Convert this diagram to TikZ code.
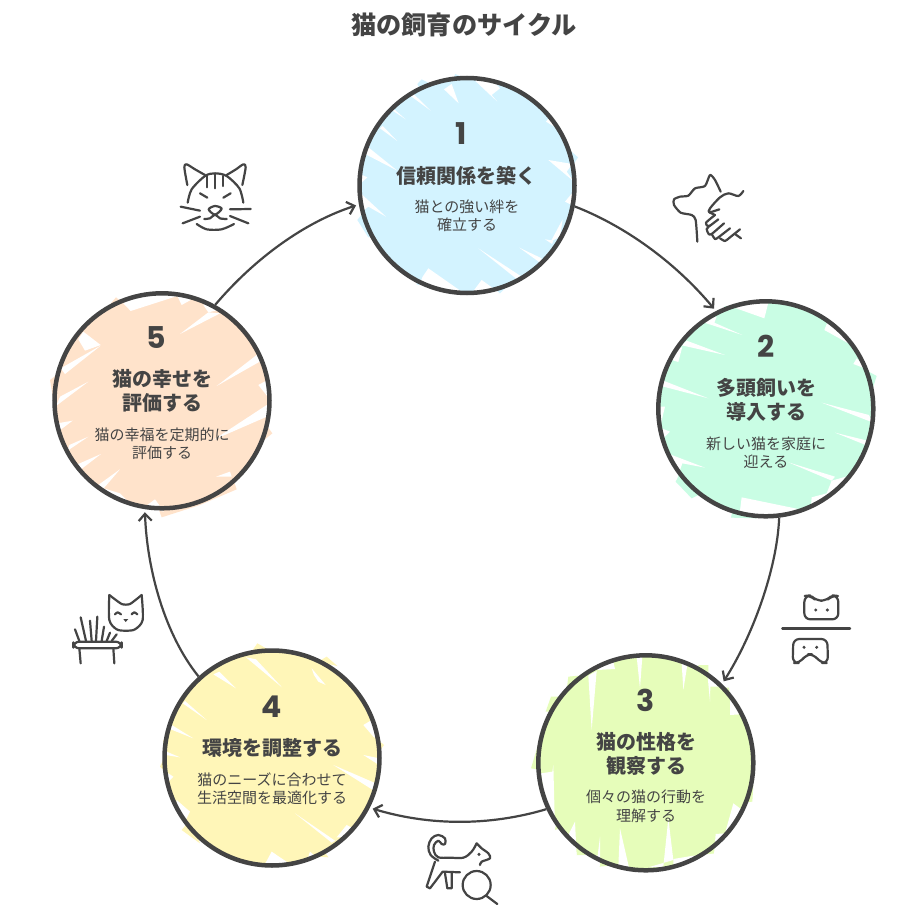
\documentclass[tikz,border=0pt]{standalone}
\usepackage{fontspec}
\usetikzlibrary{arrows.meta}
\setmainfont{Noto Sans CJK JP}
\newfontfamily\numfont{Poppins}[Scale=1]
\definecolor{ink}{HTML}{444444}
\definecolor{tintA}{HTML}{D3F3FF}
\definecolor{tintB}{HTML}{C9FDE4}
\definecolor{tintC}{HTML}{E6FDBA}
\definecolor{tintD}{HTML}{FFF6B8}
\definecolor{tintE}{HTML}{FFE3CB}
\newcommand\WW[1]{\fill[white] #1 -- cycle;}
\newcommand\TT[1]{\fill #1 -- cycle;}
\tikzset{
  zoomed/.style={x=.33333pt,y=-.33333pt},
  ring/.style={circle,draw=ink,line width=4.5pt,minimum size=215pt,inner sep=0pt,outer sep=2.25pt},
  numlabel/.style={text=ink,font=\numfont\bfseries\fontsize{30}{30}\selectfont,inner sep=0pt},
  heading/.style={text=ink,font=\bfseries\fontsize{20}{20}\selectfont,inner sep=0pt,text height=17.6pt,text depth=2.4pt},
  sublabel/.style={text=ink,font=\fontsize{15}{15}\selectfont,inner sep=0pt,text height=13.2pt,text depth=1.8pt},
  titlelabel/.style={text=ink,font=\bfseries\fontsize{25.2}{25.2}\selectfont,inner sep=0pt,text height=22.2pt,text depth=3pt},
  conn/.style={draw=ink,line width=2.2pt,-{Straight Barb[length=7pt,width=13pt]},shorten >=3pt},
  icon/.style={draw=ink,line width=2.2pt,line cap=round,line join=round},
}
\begin{document}
\begin{tikzpicture}[x=1pt,y=-1pt]
\useasboundingbox (0,0) rectangle (924,912);
\fill[white] (0,0) rectangle (924,912);

% --- circle 1 fill
\begin{scope}[shift={(340,60)},zoomed,fill=tintA]
\fill (381,376) circle[radius=322];
\TT{(232,72)--(245,58)--(268,70)--(240,88)}
\TT{(345,42)--(405,66)--(340,62)}
\TT{(680,262)--(714,292)--(695,322)--(670,310)}
\TT{(52,480)--(72,455)--(95,530)--(85,532)}
\TT{(228,672)--(270,640)--(275,690)}
\TT{(395,690)--(425,690)--(480,700)--(500,680)}
\WW{(205,103)--(272,152)--(222,103)}
\WW{(155,150)--(197,178)--(165,150)}
\WW{(120,205)--(172,243)--(128,198)}
\WW{(85,262)--(172,332)--(75,282)}
\WW{(60,342)--(82,352)--(60,372)}
\WW{(62,400)--(138,470)--(85,440)--(58,462)}
\WW{(312,88)--(356,130)--(335,72)}
\WW{(405,62)--(472,125)--(455,105)--(480,85)--(450,52)}
\WW{(618,185)--(645,150)--(672,218)}
\WW{(625,300)--(702,365)--(680,335)--(697,312)}
\WW{(675,425)--(700,395)--(705,440)}
\WW{(615,538)--(636,552)--(640,542)}
\WW{(668,478)--(632,545)--(660,530)}
\WW{(538,563)--(600,608)--(605,595)}
\WW{(415,565)--(545,650)--(530,657)}
\WW{(265,625)--(365,695)--(230,695)--(248,650)}
\WW{(395,700)--(425,660)--(480,700)}
\end{scope}

% --- circle 2 fill
\begin{scope}[shift={(645,290)},zoomed,fill=tintB]
\fill (363,357) circle[radius=322];
\TT{(640,228)--(695,258)--(680,305)--(650,290)}
\TT{(92,575)--(115,520)--(170,610)--(140,625)}
\TT{(258,683)--(265,650)--(335,685)}
\TT{(240,48)--(270,52)--(225,75)}
\WW{(265,52)--(358,85)--(372,30)--(290,30)}
\WW{(178,98)--(292,135)--(208,98)--(215,80)--(190,85)}
\WW{(125,152)--(240,195)--(110,166)}
\WW{(80,210)--(100,216)--(112,170)--(95,182)}
\WW{(55,272)--(190,325)--(48,288)}
\WW{(60,350)--(48,400)--(38,350)}
\WW{(75,425)--(55,445)--(50,415)}
\WW{(75,493)--(180,533)--(112,520)--(95,570)--(70,520)}
\WW{(538,120)--(548,95)--(620,150)--(610,160)}
\WW{(625,222)--(635,205)--(672,240)}
\WW{(530,338)--(682,397)--(672,375)}
\WW{(570,428)--(667,467)--(667,452)}
\WW{(430,517)--(560,572)--(570,560)}
\WW{(560,572)--(610,558)--(565,635)--(530,632)--(498,645)--(500,622)--(545,610)}
\WW{(290,622)--(460,657)--(430,675)--(345,685)--(285,662)}
\end{scope}

% --- circle 3 fill
\begin{scope}[shift={(525,645)},zoomed,fill=tintC]
\fill (362,354) circle[radius=322];
\TT{(18,370)--(80,380)--(85,280)--(45,280)}
\TT{(78,155)--(100,155)--(110,200)--(62,200)}
\TT{(130,95)--(160,92)--(170,130)--(125,135)}
\TT{(520,60)--(550,60)--(550,120)--(520,110)}
\TT{(625,475)--(682,470)--(685,420)--(640,430)}
\TT{(555,125)--(612,128)--(618,170)--(570,165)}
\TT{(90,555)--(100,500)--(130,540)}
\TT{(155,630)--(180,630)--(180,590)--(150,590)}
\TT{(222,665)--(255,662)--(245,630)--(225,630)}
\TT{(570,625)--(510,632)--(530,600)--(570,590)}
\WW{(335,35)--(352,35)--(345,130)}
\WW{(470,55)--(487,60)--(475,135)}
\WW{(190,92)--(215,78)--(200,255)}
\WW{(265,50)--(270,72)--(218,75)--(225,55)}
\WW{(548,95)--(555,170)--(556,125)--(585,125)--(570,100)}
\WW{(615,210)--(645,208)--(615,150)}
\WW{(48,385)--(82,380)--(85,360)--(90,552)--(68,520)}
\WW{(150,530)--(155,632)--(120,590)}
\WW{(225,575)--(218,632)--(157,632)--(180,665)--(225,665)}
\WW{(285,550)--(312,668)--(280,665)}
\WW{(430,520)--(445,645)--(370,667)--(415,665)}
\WW{(625,475)--(600,565)--(572,567)--(567,628)--(505,632)--(445,642)--(445,670)--(560,645)--(665,505)}
\end{scope}

% --- circle 4 fill
\begin{scope}[shift={(150,640)},zoomed,fill=tintD]
\fill (366,354) circle[radius=322];
\TT{(322,10)--(405,58)--(300,42)}
\TT{(530,50)--(562,78)--(505,65)}
\TT{(685,300)--(702,315)--(680,345)}
\TT{(95,570)--(120,540)--(150,610)}
\TT{(30,380)--(50,340)--(50,400)}
\TT{(40,300)--(60,290)--(40,320)}
\TT{(510,650)--(535,652)--(520,630)}
\WW{(288,52)--(396,142)--(318,58)}
\WW{(190,103)--(258,145)--(208,95)}
\WW{(98,190)--(170,240)--(105,183)}
\WW{(65,255)--(130,295)--(62,268)}
\WW{(50,335)--(90,352)--(48,345)}
\WW{(55,400)--(70,410)--(48,432)}
\WW{(80,480)--(120,515)--(100,555)--(75,520)}
\WW{(485,85)--(527,135)--(505,125)--(492,105)}
\WW{(640,255)--(665,240)--(692,305)--(670,290)}
\WW{(640,345)--(690,377)--(688,355)}
\WW{(550,375)--(672,452)--(682,432)}
\WW{(435,520)--(555,602)--(545,608)}
\WW{(590,555)--(612,567)--(580,592)--(560,592)}
\WW{(345,672)--(365,635)--(420,672)--(370,690)}
\WW{(480,635)--(500,652)--(468,670)}
\end{scope}

% --- circle 5 fill
\begin{scope}[shift={(40,280)},zoomed,fill=tintE]
\fill (366,362) circle[radius=322];
\TT{(228,52)--(252,72)--(200,85)}
\TT{(30,300)--(50,285)--(70,330)--(42,372)}
\TT{(697,460)--(660,490)--(665,415)}
\TT{(590,628)--(480,675)--(365,712)--(350,670)--(560,590)--(572,575)}
\WW{(250,70)--(272,93)--(412,48)--(380,30)--(300,35)}
\WW{(412,48)--(425,75)--(452,60)--(440,40)}
\WW{(420,162)--(540,100)--(505,97)}
\WW{(490,75)--(505,97)--(535,90)--(505,60)}
\WW{(530,318)--(650,225)--(668,240)}
\WW{(655,315)--(677,303)--(695,365)}
\WW{(520,480)--(680,375)--(692,405)}
\WW{(528,590)--(570,575)--(575,590)}
\WW{(115,178)--(135,212)--(182,195)--(130,155)}
\WW{(182,197)--(62,265)--(75,282)}
\WW{(145,305)--(48,378)--(60,350)}
\WW{(98,422)--(58,452)--(52,430)}
\WW{(145,470)--(83,512)--(88,495)}
\WW{(183,522)--(118,572)--(108,555)}
\WW{(240,568)--(172,617)--(185,632)}
\WW{(175,620)--(240,640)--(275,675)--(210,670)}
\WW{(315,680)--(345,658)--(372,695)}
\end{scope}

% --- circles
\node[ring] (n1) at (467,185.5) {};
\node[ring] (n2) at (765.8,408.8) {};
\node[ring] (n3) at (645.8,762.8) {};
\node[ring] (n4) at (272,758) {};
\node[ring] (n5) at (162,400.8) {};

% --- texts
\node[titlelabel] (title) at (464,25) {猫の飼育のサイクル};

\node[numlabel] (num1) at (461,134) {1};
\node[heading] (h1) at (466,176) {信頼関係を築く};
\node[sublabel] (s1a) at (467,207) {猫との強い絆を};
\node[sublabel] (s1b) at (467,225) {確立する};

\node[numlabel] (num2) at (766,346) {2};
\node[heading] (h2a) at (766,387.5) {多頭飼いを};
\node[heading] (h2b) at (766,412) {導入する};
\node[sublabel] (s2a) at (766,443.5) {新しい猫を家庭に};
\node[sublabel] (s2b) at (766,461.5) {迎える};

\node[numlabel] (num3) at (646,700) {3};
\node[heading] (h3a) at (646,742) {猫の性格を};
\node[heading] (h3b) at (646,766) {観察する};
\node[sublabel] (s3a) at (646,797) {個々の猫の行動を};
\node[sublabel] (s3b) at (646,815.5) {理解する};

\node[numlabel] (num4) at (272,707) {4};
\node[heading] (h4) at (272,748) {環境を調整する};
\node[sublabel] (s4a) at (272,780) {猫のニーズに合わせて};
\node[sublabel] (s4b) at (272,798) {生活空間を最適化する};

\node[numlabel] (num5) at (156,338) {5};
\node[heading] (h5a) at (162,379) {猫の幸せを};
\node[heading] (h5b) at (162,403) {評価する};
\node[sublabel] (s5a) at (162,435) {猫の幸福を定期的に};
\node[sublabel] (s5b) at (162,453) {評価する};

% --- connectors
\draw[conn] (n1.-11.4) .. controls (625,226) and (675,262) .. (n2.117);
\draw[conn] (n2.-83) .. controls (777,570) and (752,637) .. (n3.46.4);
\draw[conn] (n3.205) .. controls (490,826) and (430,826) .. (n4.-27);
\draw[conn] (n4.132.9) .. controls (165,635) and (147,570) .. (n5.-99.5);
\draw[conn] (n5.61.4) .. controls (255,258) and (305,222) .. (n1.190);

% --- icon: cat face
\begin{scope}[shift={(160,150)},zoomed]
\draw[icon] plot[smooth] coordinates {(82,105) (73,52) (80,43) (105,58) (135,75)};
\draw[icon] plot[smooth] coordinates {(200,75) (228,58) (250,43) (257,52) (247,105)};
\draw[icon] plot[smooth] coordinates {(83,158) (95,118) (135,78) (165,70) (200,78) (238,115) (250,158)};
\draw[icon] (142,78)--(142,112) (165,72)--(165,115) (190,78)--(190,108);
\draw[icon] (120,130)--(142,143) (212,130)--(190,143);
\draw[icon] plot[smooth cycle] coordinates {(146,178) (165,168) (185,176) (165,194)};
\draw[icon] plot[smooth] coordinates {(133,207) (150,205) (165,194) (180,205) (200,207)};
\draw[icon] (62,170)--(120,182) (68,220)--(120,200) (210,178)--(272,177) (210,198)--(265,220);
\draw[icon] plot[smooth] coordinates {(110,222) (140,238) (185,238) (222,222)};
\end{scope}

% --- icon: dog and hand
\begin{scope}[shift={(660,160)},zoomed]
\draw[icon] plot[smooth,tension=.4] coordinates {(112,245) (107,180) (95,165) (62,158) (42,135) (42,118) (60,110) (85,107) (105,85) (135,78) (150,45) (165,60) (182,95)};
\draw[icon] plot[smooth,tension=.5] coordinates {(250,93) (235,108) (205,100) (180,112) (150,145) (148,157) (178,148)};
\draw[icon] plot[smooth,tension=.4] coordinates {(165,165) (138,188) (143,198) (150,197) (175,178)};
\draw[icon] plot[smooth,tension=.4] coordinates {(150,197) (140,207) (146,222) (155,222) (192,190)};
\draw[icon] plot[smooth,tension=.4] coordinates {(155,222) (165,237) (175,232) (210,205)};
\draw[icon] plot[smooth,tension=.4] coordinates {(180,235) (195,243) (210,232) (240,208)};
\draw[icon] (225,222)--(243,235);
\draw[icon] (148,157)--(165,165);
\end{scope}

% --- icon: two faces
\begin{scope}[shift={(770,585)},zoomed]
\draw[icon,rounded corners=6pt] (103,103)--(103,33)--(122,31)--(138,47)--(170,47)--(186,31)--(205,33)--(205,103)--cycle;
\fill[ink] (137,75) circle[radius=5] (172,75) circle[radius=5];
\draw[icon,line width=2.4pt] (37,131)--(240,131);
\draw[icon,rounded corners=6pt] (70,162)--(172,162)--(174,234)--(152,234)--(132,208)--(108,208)--(90,234)--(68,234)--cycle;
\fill[ink] (102,187) circle[radius=5] (140,187) circle[radius=5];
\end{scope}

% --- icon: cat with magnifier
\begin{scope}[shift={(410,820)},zoomed]
\draw[icon] plot[smooth,tension=.6] coordinates {(85,122) (62,105) (55,80) (65,55) (85,45) (105,55) (105,72) (95,72) (85,62) (72,75) (72,95) (85,112) (120,113) (160,113) (185,95) (200,70)};
\draw[icon] plot[smooth,tension=.5] coordinates {(200,70) (215,85) (235,100) (240,115) (215,125) (210,135)};
\draw[icon] (75,125)--(50,200)--(60,205)--(98,155)--(150,157);
\draw[icon] (105,160)--(112,205)--(125,205)--(125,157);
\fill[ink] (207,103) circle[radius=5];
\draw[icon] (200,195) circle[radius=42];
\draw[icon] (230,228)--(262,252);
\end{scope}

% --- icon: cat with plant
\begin{scope}[shift={(60,580)},zoomed]
\draw[icon] plot[smooth,tension=.35] coordinates {(148,45) (185,72) (210,72) (245,45)};
\draw[icon] plot[smooth,tension=.5] coordinates {(245,45) (248,120) (225,148) (198,152) (170,148) (148,120) (148,45)};
\draw[icon] plot[smooth] coordinates {(165,103) (173,97) (183,103)};
\draw[icon] plot[smooth] coordinates {(215,103) (223,97) (232,103)};
\fill[ink] (190,117)--(205,117)--(197,126)--cycle;
\draw[icon,rounded corners=6pt] (40,185) rectangle (185,205);
\draw[icon] (58,205)--(62,250) (160,205)--(163,250);
\draw[icon] (45,148)--(58,183) (62,112)--(78,183) (90,122)--(95,183) (112,110)--(108,183) (132,140)--(125,183) (150,158)--(140,183) (170,163)--(155,183);
\end{scope}
\end{tikzpicture}
\end{document}
